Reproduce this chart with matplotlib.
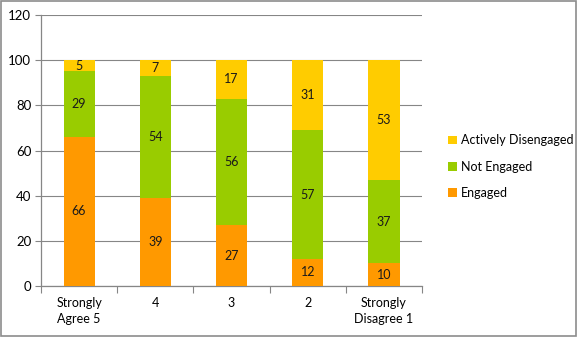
import matplotlib
matplotlib.use("Agg")
import matplotlib.pyplot as plt
from matplotlib.patches import Rectangle

categories = ["Strongly\nAgree 5", "4", "3", "2", "Strongly\nDisagree 1"]
engaged = [66, 39, 27, 12, 10]
not_engaged = [29, 54, 56, 57, 37]
actively_disengaged = [5, 7, 17, 31, 53]
y_ticks = [0, 20, 40, 60, 80, 100, 120]

series = [
    ("Engaged", engaged, "#FF9900"),
    ("Not Engaged", not_engaged, "#99CC00"),
    ("Actively Disengaged", actively_disengaged, "#FFCC00"),
]

plt.rcParams["font.family"] = ["Lato", "DejaVu Sans"]

fig = plt.figure(figsize=(5.77, 3.37), dpi=100)
fig.patches.append(Rectangle((0.001, 0.002), 0.997, 0.995, transform=fig.transFigure,
                             fill=False, edgecolor="#8C8C8C", linewidth=1.2))
ax = fig.add_axes([0.0711, 0.1513, 0.6603, 0.8042])

x = list(range(len(categories)))
bottoms = [0] * len(categories)
handles = []
for name, vals, color in series:
    bars = ax.bar(x, vals, bottom=bottoms, width=0.41, color=color, label=name, zorder=3)
    handles.append(bars)
    for xi, v, b in zip(x, vals, bottoms):
        ax.text(xi, b + v / 2, str(v), ha="center", va="center", fontsize=9,
                color="#1a1a1a", zorder=4)
    bottoms = [b + v for b, v in zip(bottoms, vals)]

ax.set_xlim(-0.5, len(categories) - 0.5)
ax.set_ylim(0, 120)
ax.set_yticks(y_ticks)
ax.tick_params(axis="y", labelsize=9.5, length=4, color="#868686", pad=3)
ax.yaxis.grid(True, color="#868686", linewidth=0.8, zorder=0)
ax.set_axisbelow(True)

# category labels between boundary ticks
ax.set_xticks([i - 0.5 for i in range(len(categories) + 1)])
ax.set_xticklabels([])
ax.set_xticks(x, minor=True)
ax.set_xticklabels(categories, minor=True, fontsize=9, linespacing=1.35)
ax.tick_params(axis="x", which="major", length=5, color="#868686", direction="out")
ax.tick_params(axis="x", which="minor", length=0, pad=8)

for side in ["top", "right"]:
    ax.spines[side].set_visible(False)
for side in ["left", "bottom"]:
    ax.spines[side].set_color("#868686")
    ax.spines[side].set_linewidth(0.9)

leg = fig.legend(handles[::-1], [s[0] for s in series][::-1], loc="center left",
                 bbox_to_anchor=(0.757, 0.505), frameon=False, fontsize=9,
                 handlelength=0.7, handleheight=0.7, handletextpad=0.3,
                 labelspacing=1.15)

fig.savefig("out.png", dpi=100)
